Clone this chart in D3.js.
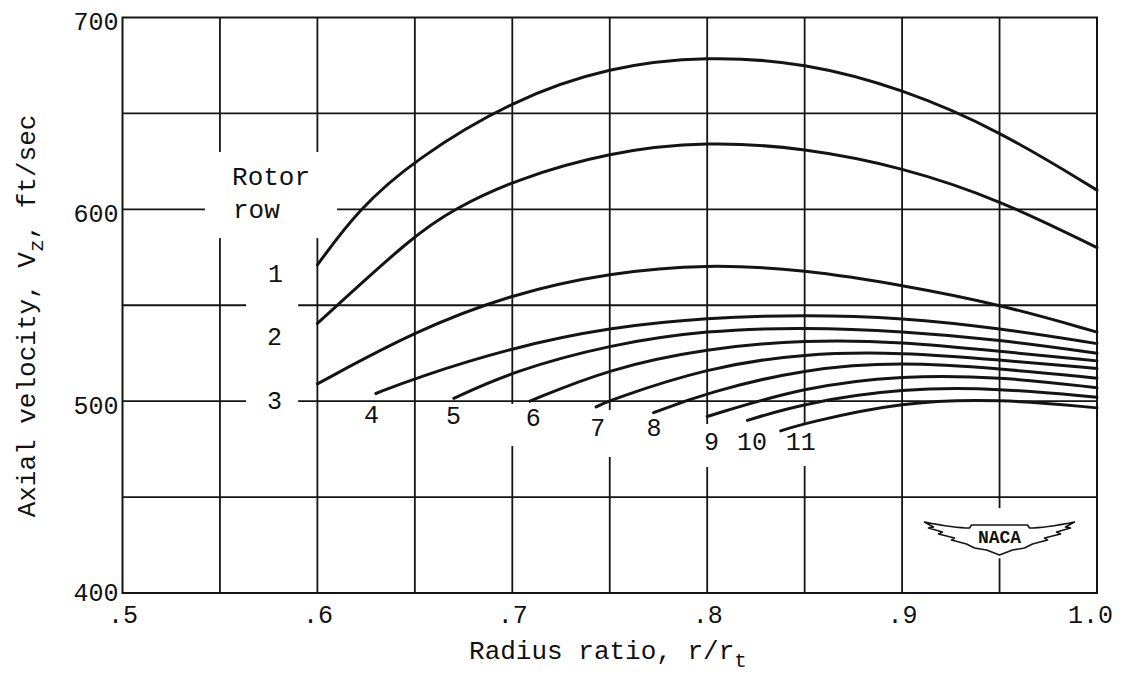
<!DOCTYPE html>
<html>
<head>
<meta charset="utf-8">
<script src="https://cdn.jsdelivr.net/npm/d3@7"></script>
<style>
  body { margin: 0; background: #fff; }
  text { font-family: "Liberation Mono", "Courier New", monospace; fill: #111; }
</style>
</head>
<body>
<div id="chart"></div>
<script>
// axis values
const radiusTicks = [0.5, 0.6, 0.7, 0.8, 0.9, 1.0];
const radiusTickLabels = [".5", ".6", ".7", ".8", ".9", "1.0"];
const velocityTicks = [400, 500, 600, 700];
const radiusGrid = [0.55, 0.6, 0.65, 0.7, 0.75, 0.8, 0.85, 0.9, 0.95];
const velocityGrid = [450, 500, 550, 600, 650];

// rotor rows, [radius ratio, axial velocity ft/sec]
const rowNames = ["1", "2", "3", "4", "5", "6", "7", "8", "9", "10", "11"];
const row1 = [[0.60,571],[0.621,600],[0.65,626],[0.70,657],[0.75,674.5],[0.80,680],[0.85,676.5],[0.90,663],[0.95,641],[1.00,610]];
const row2 = [[0.60,540.5],[0.65,587],[0.67,600],[0.70,615],[0.75,630],[0.80,635.5],[0.85,632],[0.90,622],[0.95,605],[1.00,580]];
const row3 = [[0.60,509],[0.65,536.5],[0.70,556],[0.75,567],[0.80,571.5],[0.85,568.5],[0.90,560.5],[0.95,550.5],[1.00,536]];
const row4 = [[0.630,504],[0.65,512],[0.70,528],[0.75,538.5],[0.80,543.5],[0.85,545],[0.90,543.5],[0.95,538],[1.00,530]];
const row5 = [[0.670,501.5],[0.70,515.5],[0.75,529.5],[0.80,537],[0.85,538.5],[0.90,536.5],[0.95,532],[1.00,525]];
const row6 = [[0.709,500],[0.75,517],[0.80,527.5],[0.85,532],[0.90,531],[0.95,526],[1.00,521]];
const row7 = [[0.743,497],[0.75,500.5],[0.80,517.5],[0.85,525],[0.90,525.5],[0.95,521.5],[1.00,517]];
const row8 = [[0.7725,494],[0.80,504.5],[0.85,517],[0.90,520.5],[0.95,517],[1.00,512]];
const row9 = [[0.800,492],[0.85,507.5],[0.90,513.5],[0.95,512.8],[1.00,507]];
const row10 = [[0.8206,490],[0.85,499],[0.90,506.8],[0.95,506.8],[1.00,502]];
const row11 = [[0.8377,484.5],[0.85,488.5],[0.90,499.8],[0.95,501.2],[1.00,496.5]];
const rows = [row1, row2, row3, row4, row5, row6, row7, row8, row9, row10, row11];

function main() {
    let w = 1133, h = 677;
    let svg = d3.select("#chart").append("svg")
        .attr("width", w)
        .attr("height", h);

    let x = d3.scaleLinear().domain([0.5, 1.0]).range([122.5, 1097]);
    let y = d3.scaleLinear().domain([400, 700]).range([593, 17.5]);
    let ink = "#141414";

    // grid
    svg.append("g").selectAll("line")
        .data(radiusGrid)
        .enter().append("line")
        .attr("x1", d => x(d)).attr("x2", d => x(d))
        .attr("y1", y(700)).attr("y2", y(400))
        .attr("stroke", ink).attr("stroke-width", 1.8);
    svg.append("g").selectAll("line")
        .data(velocityGrid)
        .enter().append("line")
        .attr("x1", x(0.5)).attr("x2", x(1.0))
        .attr("y1", d => y(d)).attr("y2", d => y(d))
        .attr("stroke", ink).attr("stroke-width", 1.8);

    // white gaps in the grid round the labels, [r0, r1, v0, v1]
    let gaps = [
        [0.5423, 0.6101, 585.0, 629.9],   // Rotor row
        [0.5634, 0.5901, 492.8, 585.0],   // 1 2 3
        [0.6208, 0.6439, 485.0, 498.5],   // 4
        [0.6608, 0.6798, 485.0, 498.5],   // 5
        [0.6967, 0.7193, 476.6, 498.5],   // 6
        [0.7378, 0.7512, 470.9, 495.4],   // 7
        [0.7963, 0.8086, 465.7, 488.1],   // 9
        [0.8425, 0.8569, 466.2, 488.1],   // 11
        [0.9092, 0.9900, 418.1, 444.2]    // logo
    ];
    svg.append("g").selectAll("rect")
        .data(gaps)
        .enter().append("rect")
        .attr("x", d => x(d[0]))
        .attr("width", d => x(d[1]) - x(d[0]))
        .attr("y", d => y(d[3]))
        .attr("height", d => y(d[2]) - y(d[3]))
        .attr("fill", "#fff");

    // frame
    svg.append("rect")
        .attr("x", x(0.5)).attr("y", y(700))
        .attr("width", x(1.0) - x(0.5))
        .attr("height", y(400) - y(700))
        .attr("fill", "none")
        .attr("stroke", ink).attr("stroke-width", 2);

    // axes (labels only)
    let xAxis = svg.append("g")
        .attr("transform", `translate(0,${y(400)})`)
        .call(d3.axisBottom(x).tickValues(radiusTicks)
            .tickFormat((d, i) => radiusTickLabels[i]).tickSize(0));
    xAxis.select(".domain").remove();
    xAxis.selectAll("text")
        .attr("y", 30).attr("dy", null)
        .attr("font-size", 25)
        .attr("fill", ink)
        .attr("dx", (d, i) => i == radiusTicks.length - 1 ? -7 : 0);

    let yAxis = svg.append("g")
        .attr("transform", `translate(${x(0.5)},0)`)
        .call(d3.axisLeft(y).tickValues(velocityTicks).tickSize(0).tickPadding(4));
    yAxis.select(".domain").remove();
    yAxis.selectAll("text")
        .attr("dy", d => d == 400 ? "0.3em" : "0.48em")
        .attr("font-size", 25)
        .attr("fill", ink);

    // axis titles
    let xt = svg.append("text")
        .attr("x", 608).attr("y", 659)
        .attr("text-anchor", "middle")
        .attr("font-size", 26);
    xt.append("tspan").text("Radius ratio, r/r");
    xt.append("tspan").attr("dy", 8).attr("font-size", 21).text("t");

    let yt = svg.append("text")
        .attr("transform", "translate(35,316) rotate(-90)")
        .attr("text-anchor", "middle")
        .attr("font-size", 26);
    yt.append("tspan").text("Axial velocity, V");
    yt.append("tspan").attr("dy", 8).attr("font-size", 21).text("z");
    yt.append("tspan").attr("dy", -8).text(", ft/sec");

    // curves
    let line = d3.line()
        .x(d => x(d[0]))
        .y(d => y(d[1]))
        .curve(d3.curveBasis);
    svg.append("g").selectAll("path")
        .data(rows)
        .enter().append("path")
        .attr("d", line)
        .attr("fill", "none")
        .attr("stroke", ink)
        .attr("stroke-width", 3)
        .attr("stroke-linecap", "round");

    // row labels: [r, v of baseline]
    let labelSpots = [
        [0.5785, 562.0], [0.5780, 529.3], [0.5780, 496.0],
        [0.6278, 488.5], [0.6698, 488.0], [0.7107, 487.0],
        [0.7439, 482.0], [0.7727, 482.0], [0.8022, 474.3],
        [0.8230, 474.3], [0.8480, 474.3]
    ];
    svg.append("g").selectAll("text")
        .data(rowNames)
        .enter().append("text")
        .attr("x", (d, i) => x(labelSpots[i][0]))
        .attr("y", (d, i) => y(labelSpots[i][1]))
        .attr("text-anchor", "middle")
        .attr("font-size", 25)
        .text(d => d);

    svg.append("text").attr("x", x(0.5562)).attr("y", y(612.7))
        .attr("font-size", 26).text("Rotor");
    svg.append("text").attr("x", x(0.5567)).attr("y", y(595.5))
        .attr("font-size", 26).text("row");

    // NACA wings
    let logo = svg.append("g")
        .attr("transform", `translate(${x(0.9115)},${y(437)})`);
    logo.append("path")
        .attr("d", "M0,0 C15,3 32,6 45,6 L47,3 L103,3 L105,6 C118,6 135,3 150,0 " +
            "L141,5 L146,6 L132,10 L136,12 L120,16 L123,18 L108,22 L100,26 L88,28 " +
            "L75,33 L62,28 L50,26 L42,22 L27,18 L30,16 L14,12 L18,10 L4,6 L9,5 Z")
        .attr("fill", "#fff")
        .attr("stroke", ink)
        .attr("stroke-width", 1.6)
        .attr("stroke-linejoin", "round");
    logo.append("text")
        .attr("x", 75).attr("y", 21)
        .attr("text-anchor", "middle")
        .attr("font-family", "'Liberation Sans', Arial, sans-serif")
        .attr("font-size", 18)
        .attr("font-weight", "bold")
        .text("NACA");
}

main();
</script>
</body>
</html>
